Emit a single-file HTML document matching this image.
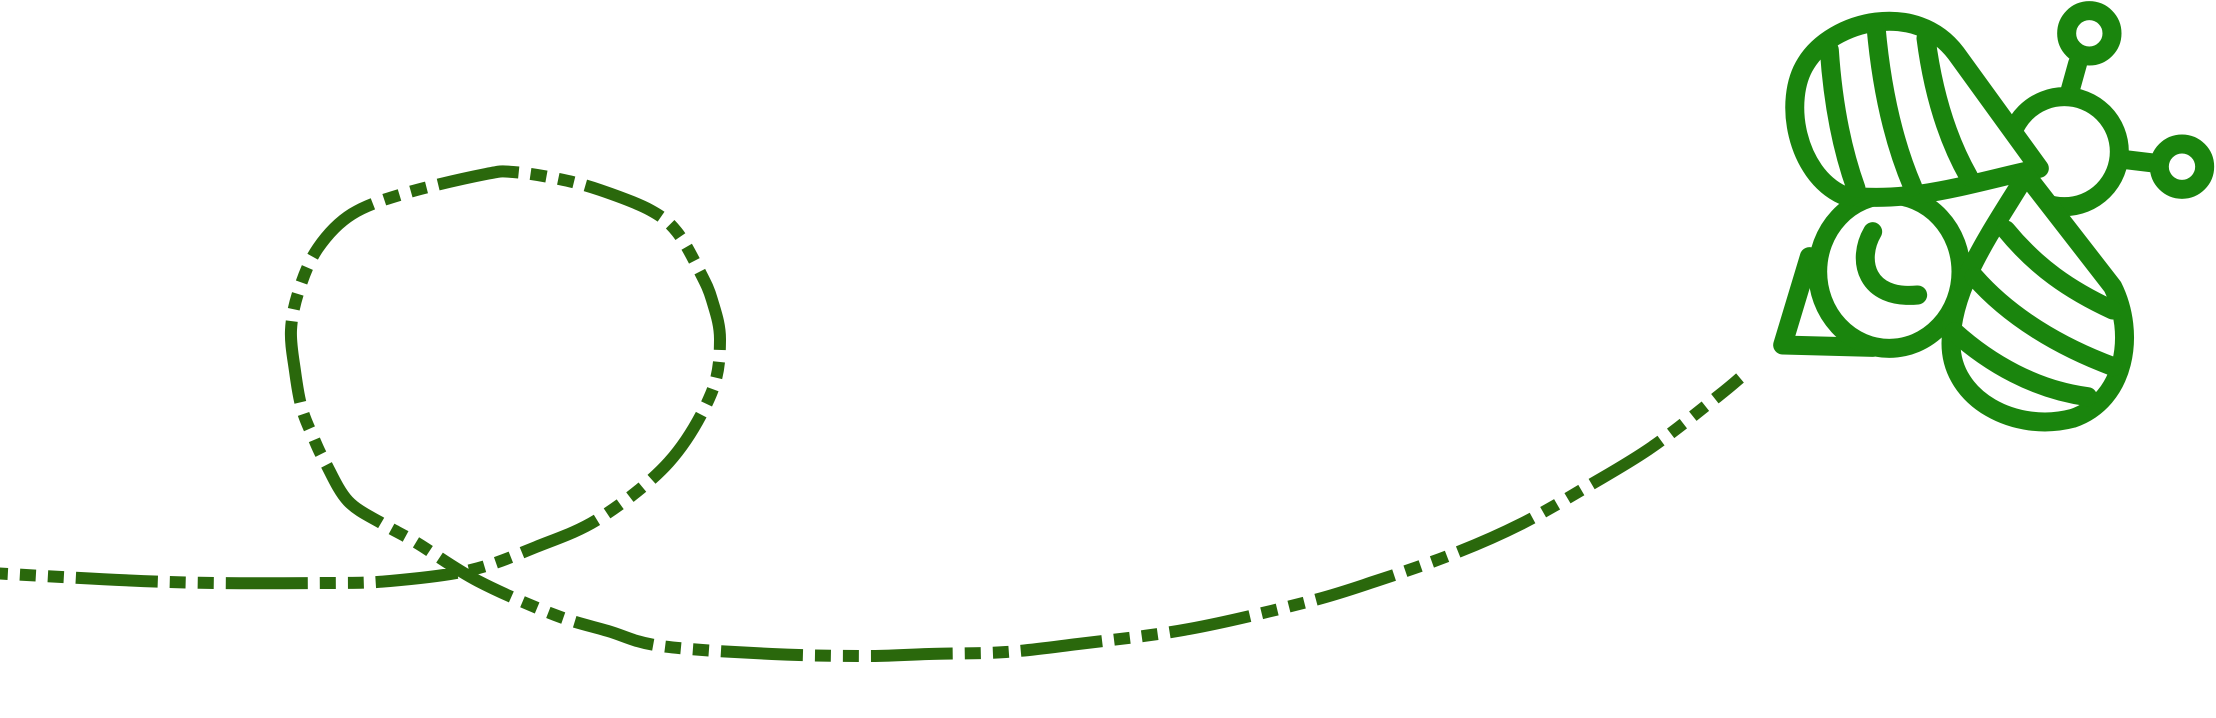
<!DOCTYPE html>
<html><head><meta charset="utf-8"><style>
html,body{margin:0;padding:0;background:#fff;}
svg{display:block;}
</style></head><body>
<svg width="2216" height="718" viewBox="0 0 2216 718" xmlns="http://www.w3.org/2000/svg">
  <path id="flight" fill="none" stroke="#2a680c" stroke-width="12" stroke-dasharray="82 12 16 12 16 12" stroke-dashoffset="64"/>
  <g transform="translate(1776,0) scale(0.33333)" stroke="#1a850d" stroke-width="57" stroke-linejoin="round" stroke-linecap="round" fill="#fff">
    <path d="M100,770 L20,1035 L290,1042 Z"/>
    <ellipse cx="340" cy="815" rx="215" ry="230"/>
    <line x1="905" y1="190" x2="880" y2="280"/>
    <line x1="1040" y1="478" x2="1140" y2="490"/>
    <circle cx="865" cy="455" r="165"/>
    <circle cx="940" cy="100" r="68"/>
    <circle cx="1218" cy="500" r="68"/>
    <path d="M200,585 C60,520 20,300 90,190 C170,60 420,0 540,160 L790,505 C600,545 400,615 200,585 Z"/>
    <path fill="none" d="M160,150 C170,300 195,440 240,565"/>
    <path fill="none" d="M300,80 C315,250 350,420 410,560"/>
    <path fill="none" d="M450,115 C470,270 510,410 578,530"/>
    <path d="M750,525 L1010,860 C1080,1000 1050,1200 890,1255 C720,1300 525,1200 525,1030 C525,860 650,690 750,525 Z"/>
    <path fill="none" d="M690,690 C780,800 880,870 1010,930"/>
    <path fill="none" d="M595,830 C700,950 850,1040 1012,1100"/>
    <path fill="none" d="M535,995 C640,1090 780,1170 935,1190"/>
    <path fill="none" d="M290,695 C240,780 270,900 425,885"/>
  </g>
</svg>
<script>
const pts=[[-10,573],[168,582],[321,583],[390,581],[471,570],[536,547],[600,518],[669,462],[711,394],[720,340],[712,300],[700,272],[677,232],[650,210],[600,190],[559,179],[513,172],[486,174],[406,193],[352,214],[318,248],[299,290],[291,330],[295,371],[302,409],[314,439],[325,462],[348,501],[383,524],[417,543],[478,581],[555,615],[608,631],[661,646],[772,654],[868,656],[929,654],[1006,652],[1078,644],[1189,629],[1307,602],[1376,581],[1453,554],[1521,524],[1590,485],[1652,447],[1717,397],[1740,378]];
let d='M'+pts[0][0]+','+pts[0][1];
for(let i=0;i<pts.length-1;i++){
  const p0=pts[Math.max(0,i-1)],p1=pts[i],p2=pts[i+1],p3=pts[Math.min(pts.length-1,i+2)];
  const c1=[p1[0]+(p2[0]-p0[0])/6,p1[1]+(p2[1]-p0[1])/6];
  const c2=[p2[0]-(p3[0]-p1[0])/6,p2[1]-(p3[1]-p1[1])/6];
  d+=' C'+c1[0].toFixed(1)+','+c1[1].toFixed(1)+' '+c2[0].toFixed(1)+','+c2[1].toFixed(1)+' '+p2[0]+','+p2[1];
}
document.getElementById('flight').setAttribute('d',d);
</script>
</body></html>
